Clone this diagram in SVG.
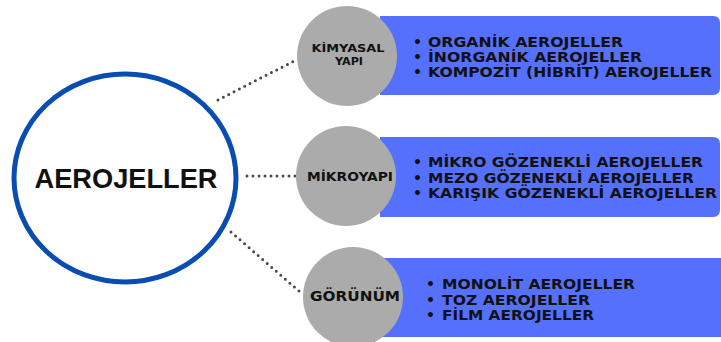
<svg xmlns="http://www.w3.org/2000/svg" width="721" height="342" viewBox="0 0 721 342">
<style>
.conn{stroke:#4a4a4a;stroke-width:3;stroke-linecap:round;stroke-dasharray:0 6;fill:none}
.band{fill:#5570fd}
.cat{fill:#ababab}
.lbl{font-family:"DejaVu Sans","Liberation Sans",Arial,sans-serif;font-weight:bold;fill:#111;text-anchor:middle}
.item{font-family:"DejaVu Sans","Liberation Sans",Arial,sans-serif;font-weight:bold;font-size:14.5px;fill:#111}
.bul{font-family:"DejaVu Sans",Arial,sans-serif;font-weight:bold;font-size:14px;fill:#111}
.root{font-family:"Liberation Sans",Arial,sans-serif;font-weight:bold;fill:#111;text-anchor:middle}
</style>
<rect width="721" height="342" fill="#fff"/>
<g id="connectors">
<line class="conn" x1="218" y1="100" x2="296" y2="60"/>
<line class="conn" x1="247" y1="176" x2="296" y2="176"/>
<line class="conn" x1="231" y1="232" x2="300" y2="292"/>
</g>
<g id="root">
<ellipse cx="125" cy="178" rx="111" ry="104" fill="#fff" stroke="#0a4db0" stroke-width="5"/>
<text x="126" y="188" class="root" font-size="28" textLength="183" lengthAdjust="spacingAndGlyphs">AEROJELLER</text>
</g>
<g id="kimyasal">
<path class="band" d="M380 16 H713 Q720 16 720 23 V88 Q720 95 713 95 H380 Z"/>
<circle class="cat" cx="347" cy="56" r="50"/>
<text class="lbl" font-size="11" x="348" y="52" textLength="73" lengthAdjust="spacingAndGlyphs">KİMYASAL</text>
<text class="lbl" font-size="11" x="349" y="65" textLength="28" lengthAdjust="spacingAndGlyphs">YAPI</text>
<g class="bul"><text x="413" y="47">•</text><text x="413" y="62">•</text><text x="413" y="77">•</text></g>
<g class="item">
<text x="428" y="47" textLength="195" lengthAdjust="spacingAndGlyphs">ORGANİK AEROJELLER</text>
<text x="428" y="62" textLength="214" lengthAdjust="spacingAndGlyphs">İNORGANİK AEROJELLER</text>
<text x="428" y="77" textLength="284" lengthAdjust="spacingAndGlyphs">KOMPOZİT (HİBRİT) AEROJELLER</text>
</g>
</g>
<g id="mikroyapi">
<path class="band" d="M380 137 H713 Q720 137 720 144 V210 Q720 217 713 217 H380 Z"/>
<circle class="cat" cx="346" cy="176" r="50"/>
<text class="lbl" font-size="13" x="350" y="181" textLength="86" lengthAdjust="spacingAndGlyphs">MİKROYAPI</text>
<g class="bul"><text x="413" y="167">•</text><text x="413" y="183">•</text><text x="413" y="198">•</text></g>
<g class="item">
<text x="428" y="167" textLength="275" lengthAdjust="spacingAndGlyphs">MİKRO GÖZENEKLİ AEROJELLER</text>
<text x="428" y="183" textLength="266" lengthAdjust="spacingAndGlyphs">MEZO GÖZENEKLİ AEROJELLER</text>
<text x="428" y="198" textLength="289" lengthAdjust="spacingAndGlyphs">KARIŞIK GÖZENEKLİ AEROJELLER</text>
</g>
</g>
<g id="gorunum">
<path class="band" d="M380 258 H721 V337 H380 Z"/>
<circle class="cat" cx="353" cy="297" r="50"/>
<text class="lbl" font-size="14.5" x="355" y="301" textLength="90" lengthAdjust="spacingAndGlyphs">GÖRÜNÜM</text>
<g class="bul"><text x="426" y="289">•</text><text x="426" y="305">•</text><text x="426" y="320">•</text></g>
<g class="item">
<text x="442" y="289" textLength="193" lengthAdjust="spacingAndGlyphs">MONOLİT AEROJELLER</text>
<text x="442" y="305" textLength="148" lengthAdjust="spacingAndGlyphs">TOZ AEROJELLER</text>
<text x="442" y="320" textLength="152" lengthAdjust="spacingAndGlyphs">FİLM AEROJELLER</text>
</g>
</g>
</svg>
